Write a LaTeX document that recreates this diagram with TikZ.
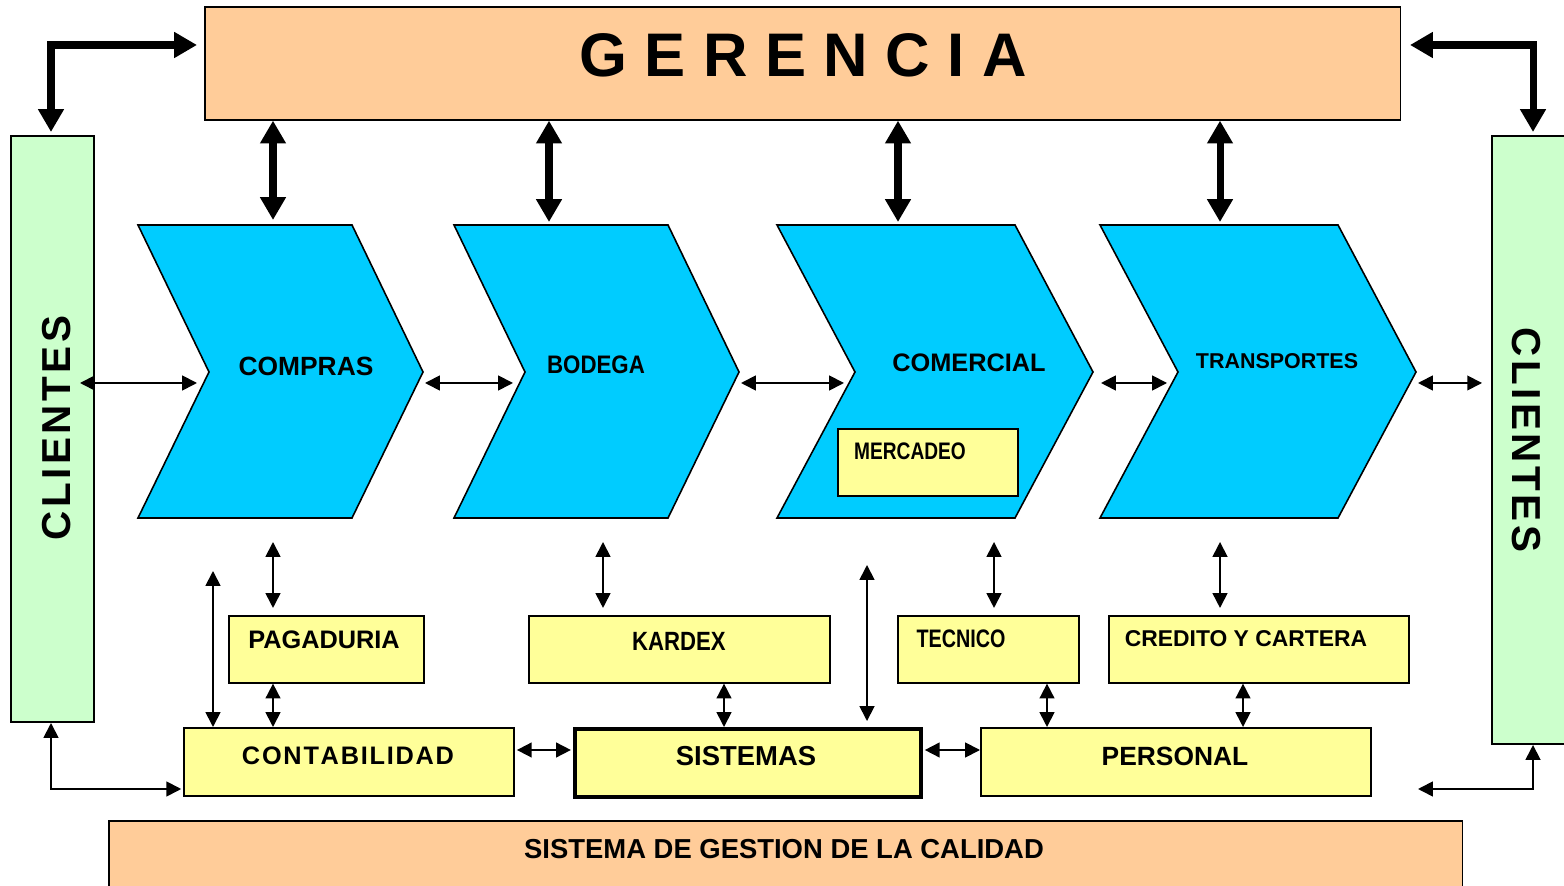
\documentclass[tikz,border=0pt]{standalone}
\usepackage{fontspec}
\setmainfont{Liberation Sans}
\usetikzlibrary{arrows.meta}

% letter tracking: #1 = kern between letters, #2 = text (use ~ for spaces)
\makeatletter
\newcommand\trk[2]{\def\trk@k{#1}\@tfor\trk@c:=#2\do{\trk@c\kern\trk@k}\unkern}
\makeatother
\newcommand\fs[1]{\fontsize{#1}{#1}\selectfont\bfseries}

\definecolor{peach}{HTML}{FFCC99}
\definecolor{mint}{HTML}{CCFFCC}
\definecolor{sky}{HTML}{00CCFF}
\definecolor{lemon}{HTML}{FFFF99}

\tikzset{
  box/.style={draw=black, line width=0.45pt, anchor=north west, inner sep=0pt},
  pbox/.style={box, fill=peach},
  gbox/.style={box, fill=mint},
  ybox/.style={box, fill=lemon},
  chev/.style={draw=black, line width=0.45pt, fill=sky},
  lbl/.style={inner sep=0pt},
  thk/.style={line width=2pt, {Triangle[length=6.5pt,width=7pt]}-{Triangle[length=6.5pt,width=7pt]}},
  thn/.style={line width=0.5pt, {Triangle[length=4.2pt,width=4.2pt]}-{Triangle[length=4.2pt,width=4.2pt]}},
}

\begin{document}
\begin{tikzpicture}[x=0.01cm, y=-0.01cm]
\useasboundingbox (0,0) rectangle (1564,886);

% ---------- top and side boxes ----------
\node[pbox, minimum width=11.95cm, minimum height=1.13cm] (ger) at (204,6) {};
\node[lbl, font=\fs{17.5}] at (803,55) {\trk{5pt}{GERENCIA}};

\node[gbox, minimum width=0.83cm, minimum height=5.86cm] (cli) at (10,135) {};
\node[lbl, font=\fs{11.5}, rotate=90] at (57,428) {\trk{1pt}{CLIENTES}};

\node[gbox, minimum width=0.76cm, minimum height=6.08cm] (clr) at (1491,135) {};
\node[lbl, font=\fs{11.5}, rotate=-90] at (1526,440) {\trk{1pt}{CLIENTES}};

% ---------- process chevrons ----------
\draw[chev] (138,225) -- (352,225) -- (423,372) -- (352,518) -- (138,518) -- (209,372) -- cycle;
\draw[chev] (454,225) -- (668,225) -- (739,372) -- (668,518) -- (454,518) -- (525,372) -- cycle;
\draw[chev] (777,225) -- (1015,225) -- (1093,372) -- (1015,518) -- (777,518) -- (855,372) -- cycle;
\draw[chev] (1100,225) -- (1338,225) -- (1416,372) -- (1338,518) -- (1100,518) -- (1178,372) -- cycle;

\node[lbl, font=\fs{7.5}] (compras) at (306,366) {COMPRAS};
\node[lbl, font=\fs{7.2}] (bodega) at (596,365) {\scalebox{0.88}[1]{BODEGA}};
\node[lbl, font=\fs{7.2}] (comercial) at (969,363) {COMERCIAL};
\node[lbl, font=\fs{6.1}] (transp) at (1277,361) {TRANSPORTES};

\node[ybox, minimum width=1.80cm, minimum height=0.67cm] (merc) at (837,428) {};
\node[lbl, font=\fs{6.8}] at (910,451) {\scalebox{0.8}[1]{MERCADEO}};

% ---------- support boxes ----------
\node[ybox, minimum width=1.95cm, minimum height=0.67cm] (pag) at (228,615) {};
\node[lbl, font=\fs{7.2}] at (324,640) {PAGADURIA};
\node[ybox, minimum width=3.01cm, minimum height=0.67cm] (kar) at (528,615) {};
\node[lbl, font=\fs{7.5}] at (679,641) {\scalebox{0.84}[1]{KARDEX}};
\node[ybox, minimum width=1.81cm, minimum height=0.67cm] (tec) at (897,615) {};
\node[lbl, font=\fs{7.2}] at (961,639) {\scalebox{0.78}[1]{TECNICO}};
\node[ybox, minimum width=3.00cm, minimum height=0.67cm] (cre) at (1108,615) {};
\node[lbl, font=\fs{6.5}] at (1246,639) {CREDITO Y CARTERA};

\node[ybox, minimum width=3.30cm, minimum height=0.68cm] (con) at (183,727) {};
\node[lbl, font=\fs{7.2}] at (348,756) {\trk{0.5pt}{CONTABILIDAD}};
\node[ybox, line width=1pt, minimum width=3.46cm, minimum height=0.68cm] (sis) at (573,727) {};
\node[lbl, font=\fs{7.8}] at (746,756) {SISTEMAS};
\node[ybox, minimum width=3.90cm, minimum height=0.68cm] (per) at (980,727) {};
\node[lbl, font=\fs{7.5}] at (1175,756) {PERSONAL};

\node[pbox, minimum width=13.53cm, minimum height=0.80cm] (sgc) at (108,820) {};
\node[lbl, font=\fs{7.8}] at (784,849) {SISTEMA DE GESTION DE LA CALIDAD};

% ---------- connector guide coordinates ----------
\coordinate (x1) at (273,0);   \coordinate (x2) at (549,0);
\coordinate (x3) at (898,0);   \coordinate (x4) at (1220,0);
\coordinate (cmpTop) at (273,220); \coordinate (bodTop) at (549,222);
\coordinate (comTop) at (898,222); \coordinate (traTop) at (1220,222);

\coordinate (cliTop) at (51,132);  \coordinate (gerL) at (197,45);
\coordinate (gerR) at (1410,45);   \coordinate (clrTop) at (1533,132);

\coordinate (h0a) at (80,383);   \coordinate (h0b) at (197,383);
\coordinate (h1a) at (425,383);  \coordinate (h1b) at (513,383);
\coordinate (h2a) at (741,383);  \coordinate (h2b) at (844,383);
\coordinate (h3a) at (1101,383); \coordinate (h3b) at (1167,383);
\coordinate (h4a) at (1418,383); \coordinate (h4b) at (1482,383);

\coordinate (cmpLow) at (273,542); \coordinate (bodLow) at (603,542);
\coordinate (tecLow) at (994,542); \coordinate (traLow) at (1220,542);
\coordinate (conUp) at (213,571);  \coordinate (sisUp) at (867,565);
\coordinate (xk) at (724,0); \coordinate (xt) at (1047,0); \coordinate (xc) at (1243,0);
\coordinate (xcu) at (213,0); \coordinate (xsu) at (867,0);
\coordinate (ylow) at (0,750);

\coordinate (bl) at (51,723);   \coordinate (br) at (1418,789);
\coordinate (clrBot) at (1533,745);

% ---------- thick links to GERENCIA ----------
\draw[thk] (cliTop) |- (gerL);
\draw[thk] (gerR) -| (clrTop);
\draw[thk] (ger.south -| x1) -- (cmpTop);
\draw[thk] (ger.south -| x2) -- (bodTop);
\draw[thk] (ger.south -| x3) -- (comTop);
\draw[thk] (ger.south -| x4) -- (traTop);

% ---------- flow between processes ----------
\draw[thn] (h0a) -- (h0b);
\draw[thn] (h1a) -- (h1b);
\draw[thn] (h2a) -- (h2b);
\draw[thn] (h3a) -- (h3b);
\draw[thn] (h4a) -- (h4b);

% ---------- processes to support areas ----------
\draw[thn] (cmpLow) -- ([yshift=2pt]pag.north -| cmpLow);
\draw[thn] (bodLow) -- ([yshift=2pt]kar.north -| bodLow);
\draw[thn] (tecLow) -- ([yshift=2pt]tec.north -| tecLow);
\draw[thn] (traLow) -- ([yshift=2pt]cre.north -| traLow);
\draw[thn] (conUp) -- (con.north -| xcu);
\draw[thn] (sisUp) -- ([yshift=1.7pt]sis.north -| xsu);

\draw[thn] (pag.south -| x1) -- (con.north -| x1);
\draw[thn] (kar.south -| xk) -- (sis.north -| xk);
\draw[thn] (tec.south -| xt) -- (per.north -| xt);
\draw[thn] (cre.south -| xc) -- (per.north -| xc);

\draw[thn] ([xshift=0.6pt]con.east |- ylow) -- ([xshift=-0.6pt]sis.west |- ylow);
\draw[thn] ([xshift=0.6pt]sis.east |- ylow) -- (per.west |- ylow);

\draw[thn] (bl) |- ([xshift=-0.5pt]con.south west |- 0,789);
\draw[thn] (br) -| (clrBot);
\end{tikzpicture}
\end{document}
